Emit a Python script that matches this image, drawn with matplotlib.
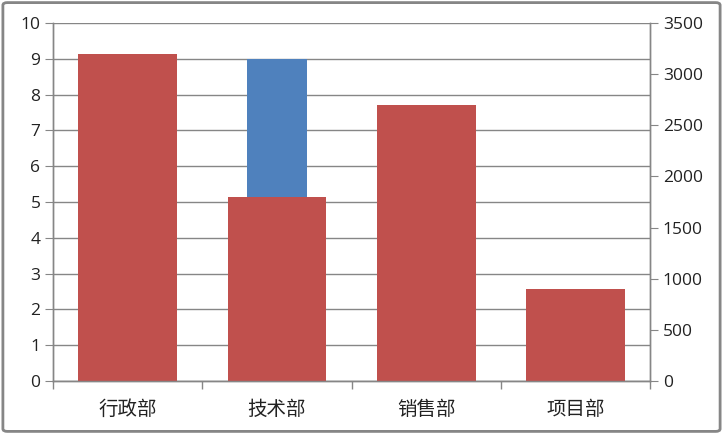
import matplotlib.pyplot as plt
from matplotlib.patches import FancyBboxPatch
import numpy as np

plt.rcParams['font.family'] = ['Open Sans', 'Noto Sans CJK SC', 'DejaVu Sans']

departments = ['行政部', '技术部', '销售部', '项目部']
# primary axis series (only the 技术部 bar shows above the red bars)
headcount = [np.nan, 9, np.nan, np.nan]
# secondary axis series
amount = [3200, 1800, 2700, 900]

GRID = '#868686'

fig = plt.figure(figsize=(7.23, 4.34), dpi=100)
ax = fig.add_axes([0.0733, 0.122, 0.826, 0.825])
ax2 = ax.twinx()

x = np.arange(len(departments))
ax.bar(x, headcount, width=0.40, color='#4F81BD', zorder=2)
ax2.bar(x, amount, width=0.66, color='#C0504D', zorder=2)

ax.set_xlim(-0.5, len(departments) - 0.5)
ax.set_ylim(0, 10)
ax.set_yticks(range(0, 11))
ax2.set_ylim(0, 3500)
ax2.set_yticks(range(0, 3501, 500))

ax.yaxis.grid(True, color=GRID, linewidth=1)
ax.set_axisbelow(True)

ax.set_xticks(x)
ax.set_xticklabels(departments, fontsize=14, family=['Noto Sans CJK SC', 'DejaVu Sans'], color='#222222')
ax.set_xticks(np.arange(-0.5, len(departments)), minor=True)
ax.tick_params(axis='x', which='major', length=0, pad=13)
ax.tick_params(axis='x', which='minor', length=6, color=GRID, width=1)
ax.tick_params(axis='y', length=6, color=GRID, labelsize=12.5, pad=3, labelcolor='#222222')
ax2.tick_params(axis='y', length=6, color=GRID, labelsize=12.5, pad=3, labelcolor='#222222')

for a in (ax, ax2):
    for side in ('left', 'right', 'bottom'):
        a.spines[side].set_color(GRID)
        a.spines[side].set_linewidth(1)
    a.spines['top'].set_visible(False)
ax2.patch.set_visible(False)

# grey chart-area border
fig.patches.append(FancyBboxPatch((0.004, 0.006), 0.992, 0.988,
                                  boxstyle='round,pad=0,rounding_size=0.006',
                                  transform=fig.transFigure, fill=False,
                                  edgecolor='#868686', linewidth=2))

fig.savefig('out.png', dpi=100)
